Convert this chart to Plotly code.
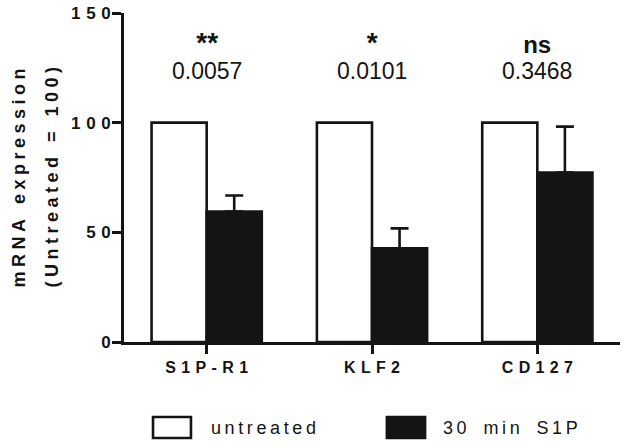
import plotly.graph_objects as go

categories = ["S1P-R1", "KLF2", "CD127"]
untreated = [100, 100, 100]
s1p_30min = [59.5, 42.7, 77.3]
s1p_err = [7.3, 9.1, 20.9]
stars = ["**", "*", "ns"]
pvalues = ["0.0057", "0.0101", "0.3468"]
ytick_vals = [0, 50, 100, 150]
legend_names = ["untreated", "30 min S1P"]

FONT = "Liberation Sans, Arial, Helvetica, sans-serif"
INK = "#141414"


def spaced(s, sep="\u2004", word=" "):
    return sep.join(word if ch == " " else ch for ch in s)


fig = go.Figure()
fig.add_trace(go.Bar(
    x=categories, y=untreated, name=legend_names[0],
    marker=dict(color="white", line=dict(color=INK, width=2.6)),
))
fig.add_trace(go.Bar(
    x=categories, y=s1p_30min, name=legend_names[1],
    marker=dict(color=INK, line=dict(color=INK, width=2.6)),
    error_y=dict(type="data", array=s1p_err, arrayminus=[0] * len(s1p_err),
                 symmetric=False, color=INK, thickness=2.6, width=9),
))

# significance annotations: stars line above p-value line, one text each
for c, s, p in zip(categories, stars, pvalues):
    is_star = "*" in s
    base = 20.6 if is_star else 20.3
    ssize = 28 if is_star else 24
    txt = ("<b><span style='font-size:%dpx'>%s</span></b><br>"
           "<span style='font-size:23px'>%s</span>" % (ssize, s, p))
    fig.add_annotation(x=c, y=117.0, text=txt, showarrow=False,
                       font=dict(family=FONT, size=base, color=INK),
                       yanchor="bottom", borderpad=0)

# y-axis title (two lines)
fig.add_annotation(xref="paper", yref="paper", x=-0.2117, y=0.5, textangle=-90,
                   xanchor="center", yanchor="middle",
                   text="<b>%s</b>" % spaced("mRNA expression", "\u2005", "\u2004"), showarrow=False,
                   font=dict(family=FONT, size=18, color=INK))
fig.add_annotation(xref="paper", yref="paper", x=-0.147, y=0.5, textangle=-90,
                   xanchor="center", yanchor="middle",
                   text="<b>%s</b>" % spaced("(Untreated = 100)", "\u2005", "\u2004"), showarrow=False,
                   font=dict(family=FONT, size=18, color=INK))

# custom legend
fig.add_shape(type="rect", xref="paper", yref="paper", x0=0.0585, x1=0.135, y0=-0.292, y1=-0.228,
              fillcolor="white", line=dict(color=INK, width=2.6))
fig.add_shape(type="rect", xref="paper", yref="paper", x0=0.530, x1=0.607, y0=-0.292, y1=-0.228,
              fillcolor=INK, line=dict(color=INK, width=2.6))
fig.add_annotation(xref="paper", yref="paper", x=0.171, y=-0.26, xanchor="left", yanchor="middle",
                   text=spaced(legend_names[0], "\u2009", "\u2004"), showarrow=False,
                   font=dict(family=FONT, size=18, color=INK))
fig.add_annotation(xref="paper", yref="paper", x=0.639, y=-0.26, xanchor="left", yanchor="middle",
                   text=spaced(legend_names[1], "\u2009", "\u2004\u2009"), showarrow=False,
                   font=dict(family=FONT, size=18, color=INK))

fig.update_layout(
    width=629, height=447,
    margin=dict(l=124, r=9, t=13, b=105, autoexpand=False),
    paper_bgcolor="white", plot_bgcolor="white",
    barmode="group", bargap=1/3, bargroupgap=0,
    showlegend=False,
    font=dict(family=FONT, color=INK),
)
fig.update_xaxes(
    range=[-0.5, 2.5], showgrid=False, zeroline=False, automargin=False,
    showline=True, linecolor=INK, linewidth=2.6,
    ticks="outside", ticklen=9, tickwidth=2.6, tickcolor=INK,
    tickvals=categories, ticktext=["<b>%s</b>" % spaced(c) for c in categories],
    tickfont=dict(family=FONT, size=16, color=INK),
)
fig.update_yaxes(
    range=[0, 150], showgrid=False, zeroline=False, automargin=False,
    showline=True, linecolor=INK, linewidth=2.6,
    ticks="outside", ticklen=9, tickwidth=2.6, tickcolor=INK,
    tickvals=ytick_vals, ticktext=["<b>%s</b>" % spaced(str(v), "\u2004") for v in ytick_vals],
    tickfont=dict(family=FONT, size=17, color=INK),
    ticklabelstandoff=-2,
)

fig.write_html("out.html", config={"displayModeBar": False},
               post_script="document.body.style.margin='0';document.body.style.overflow='hidden';")
